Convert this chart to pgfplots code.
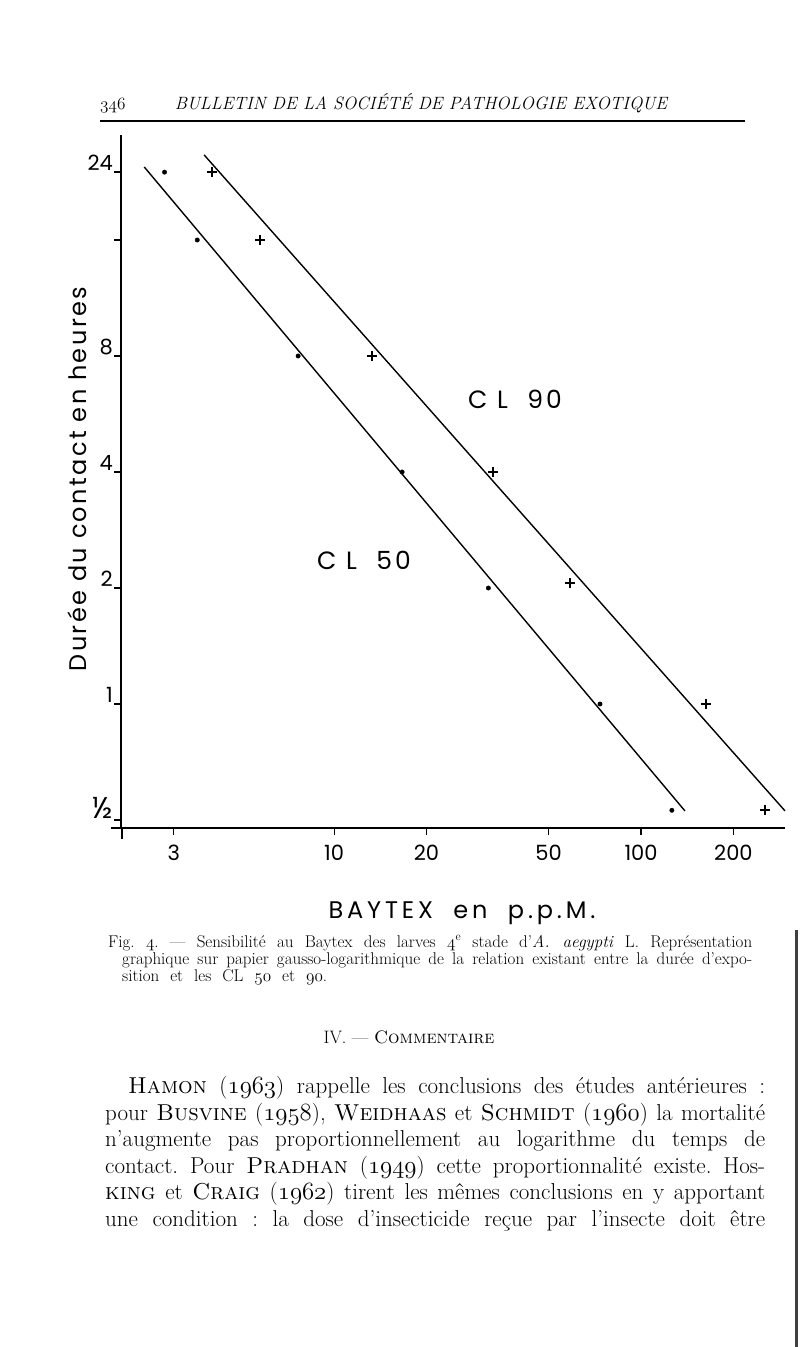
\documentclass[border=0pt]{standalone}
\usepackage{fontspec}
\usepackage{pgfplots}
\pgfplotsset{compat=1.18}
\newfontfamily\chartfont{Poppins}
\newfontfamily\chartsp{Poppins}[LetterSpace=10]
\newfontfamily\chartwide{Poppins}[LetterSpace=16]
\newfontfamily\chartcl{Poppins}[LetterSpace=12]
\newcommand{\fs}[1]{\fontsize{#1bp}{#1bp}\selectfont}
% old-style figures from the math italic font
\newcommand{\osf}[1]{\ensuremath{\mathnormal{#1}}}
% one justified line of page text, base at (x,y) in pixel units
\newcommand{\jl}[4]{\node[anchor=base west, inner sep=0] at (#1bp,-#2bp) {\makebox[#3bp][s]{#4}};}
\frenchspacing

\begin{document}
\begin{tikzpicture}
\path[use as bounding box, fill=white] (0,0) rectangle (800bp,-1347bp);

% running head
\node[anchor=base west, inner sep=0] at (100bp,-109bp) {\fs{18}\osf{346}};
\node[anchor=base, inner sep=0] at (421bp,-109bp) {\fs{17.8}\itshape BULLETIN DE LA SOCIÉTÉ DE PATHOLOGIE EXOTIQUE};
\draw[line width=1.2bp] (100bp,-121bp) -- (745bp,-121bp);

\begin{axis}[
  at={(121bp,-828bp)}, anchor=south west,
  scale only axis, width=664bp, height=693bp,
  xmode=log, ymode=log, log basis y=2,
  xmin=2.02, xmax=294.5, ymin=0.4767, ymax=29.96,
  axis lines=left, axis line style={-, line width=1.6bp},
  xtick={3,10,20,50,100,200},
  xticklabels={3,10,20,50,100,200},
  ytick={0.5,1,2,4,8,16,24},
  yticklabels={{\fs{30}½},1,2,4,8,,24},
  minor xtick={}, minor ytick={},
  tick align=outside, major tick length=7bp,
  every tick/.style={black, line width=1.3bp},
  ticklabel style={font=\chartfont\fs{21}},
  xticklabel style={inner sep=3bp, yshift=-7bp},
  yticklabel style={anchor=south east, inner sep=1bp},
  clip=false,
]
% CL 50 (points)
\addplot[only marks, mark=*, mark size=2.2bp, black] coordinates {
  (2.8,24) (3.58,16) (7.63,8) (16.65,4) (31.8,2) (73.5,1) (126,0.53)
};
% CL 90 (crosses)
\addplot[only marks, mark=+, mark size=5bp, mark options={line width=1.8bp}, black] coordinates {
  (4.0,24) (5.74,16) (13.3,8) (32.9,4) (58.7,2.06) (163,1) (253,0.53)
};
% fitted lines
\addplot[black, line width=1.4bp] coordinates {(2.405,24.75) (139,0.528)};
\addplot[black, line width=1.4bp] coordinates {(3.77,26.6) (294.5,0.528)};
\end{axis}

% axis lines run a little past the corner
\draw[line width=1.6bp] (111bp,-828bp) -- (122bp,-828bp) -- (122bp,-839bp);

% lettering in the chart
\node[inner sep=0] at (515bp,-399bp) {\chartcl\fs{25}C L\ \ 90};
\node[inner sep=0] at (364bp,-560bp) {\chartcl\fs{25}C L\ \ 50};
\node[rotate=90, anchor=base, inner sep=0] at (86bp,-479bp) {\chartsp\fs{24}Durée du contact en heures};
\node[inner sep=0] at (462bp,-913bp) {\chartwide\fs{24}BAYTEX\ \ en\ \ p.p.M.};

% caption
\begin{scope}[every node/.append style={font=\fs{17}}]
\jl{108}{947}{644}{Fig. \osf{4}. --- Sensibilité au Baytex des larves \osf{4}\textsuperscript{e} stade d'\textit{A. aegypti} L. Représentation}
\jl{122}{964}{630}{graphique sur papier gausso-logarithmique de la relation existant entre la durée d'expo-}
\jl{122}{981}{205}{sition et les CL \osf{50} et \osf{90}.}
\end{scope}

% section heading
\node[anchor=base, inner sep=0] at (409bp,-1043bp) {\fs{18}IV. --- \textsc{Commentaire}};

% body text
\begin{scope}[every node/.append style={font=\fs{23}}]
\jl{128}{1093}{637}{\textsc{Hamon} (\osf{1963}) rappelle les conclusions des études antérieures :}
\jl{105}{1120}{660}{pour \textsc{Busvine} (\osf{1958}), \textsc{Weidhaas} et \textsc{Schmidt} (\osf{1960}) la mortalité}
\jl{105}{1146}{660}{n'augmente pas proportionnellement au logarithme du temps de}
\jl{105}{1173}{660}{contact. Pour \textsc{Pradhan} (\osf{1949}) cette proportionnalité existe. Hos-}
\jl{105}{1199}{660}{\textsc{king} et \textsc{Craig} (\osf{1962}) tirent les mêmes conclusions en y apportant}
\jl{105}{1226}{660}{une condition : la dose d'insecticide reçue par l'insecte doit être}
\end{scope}

% dark page edge of the scan
\fill[black!75] (795bp,-930bp) rectangle (798bp,-1347bp);
\end{tikzpicture}
\end{document}
